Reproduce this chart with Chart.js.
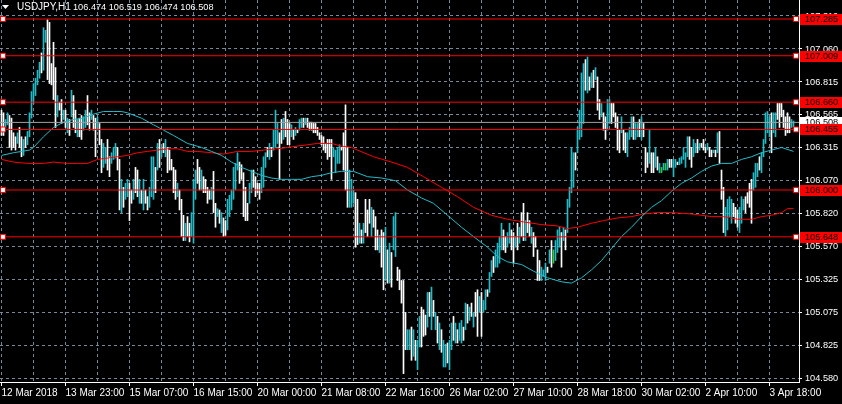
<!DOCTYPE html>
<html>
<head>
<meta charset="utf-8">
<script src="https://cdn.jsdelivr.net/npm/chart.js@4.4.1/dist/chart.umd.min.js"></script>
<style>
html, body { margin: 0; padding: 0; background: #000; overflow: hidden; }
canvas { display: block; }
</style>
</head>
<body>
<canvas id="chart" width="842" height="404"></canvas>
<script>
// USDJPY H1, one entry per hourly bar
const symbol = 'USDJPY,H1';
const lastBar = [106.474, 106.519, 106.474, 106.508]; // open high low close

const barHigh = [
  106.60,106.58,106.53,106.58,106.56,106.54,106.43,106.40,106.43,106.47,
  106.40,106.38,106.40,106.44,106.58,106.74,106.80,106.84,106.90,106.96,
  107.03,107.22,107.20,107.28,107.26,106.95,107.11,106.92,106.71,106.66,
  106.68,106.60,106.60,106.54,106.53,106.75,106.71,106.60,106.53,106.54,
  106.56,106.55,106.60,106.71,106.58,106.60,106.56,106.54,106.55,106.50,
  106.38,106.35,106.32,106.38,106.25,106.28,106.32,106.35,106.32,106.23,
  106.08,106.02,106.05,106.08,106.05,106.00,106.08,106.17,106.15,106.08,
  106.00,106.08,106.00,105.95,106.02,106.25,106.25,106.17,106.35,106.38,
  106.32,106.35,106.38,106.32,106.30,106.23,106.17,106.15,106.05,106.00,
  105.93,105.81,105.75,105.80,105.75,105.83,106.08,106.15,106.23,106.17,
  106.15,106.10,106.08,106.02,106.00,106.02,106.14,105.90,105.86,105.85,
  105.83,105.79,105.77,105.93,105.96,106.00,106.17,106.20,106.28,106.21,
  106.19,106.13,106.02,105.90,106.05,106.15,106.15,106.10,106.05,106.05,
  106.17,106.25,106.28,106.32,106.35,106.32,106.45,106.60,106.50,106.43,
  106.53,106.54,106.59,106.53,106.50,106.49,106.45,106.47,106.45,106.53,
  106.54,106.54,106.54,106.54,106.51,106.51,106.50,106.50,106.47,106.43,
  106.41,106.40,106.35,106.38,106.38,106.38,106.32,106.30,106.32,106.34,
  106.32,106.43,106.64,106.32,106.15,106.08,106.00,105.98,105.93,105.75,
  105.70,105.75,105.93,105.85,105.93,105.87,105.85,105.80,105.70,105.66,
  105.70,105.68,105.72,105.55,105.60,105.53,105.80,105.83,105.42,105.40,
  105.32,105.32,105.08,104.95,104.95,104.97,104.95,104.87,104.87,105.05,
  105.12,105.10,105.06,105.23,105.23,105.27,105.17,105.08,105.05,105.00,
  104.95,104.87,104.84,104.85,104.87,105.00,105.05,105.00,104.95,105.00,
  105.02,104.97,105.15,105.14,105.12,105.15,105.08,105.23,105.25,105.20,
  105.23,105.17,105.25,105.25,105.38,105.47,105.50,105.55,105.60,105.65,
  105.75,105.70,105.65,105.68,105.75,105.70,105.68,105.65,105.75,105.72,
  105.83,105.90,105.77,105.83,105.77,105.72,105.68,105.65,105.55,105.47,
  105.42,105.40,105.45,105.42,105.55,105.62,105.55,105.62,105.70,105.72,
  105.68,105.72,105.70,105.93,106.02,106.32,106.28,106.28,106.47,106.60,
  106.88,106.95,106.98,107.00,106.85,106.88,106.90,106.92,106.85,106.68,
  106.65,106.58,106.55,106.68,106.68,106.65,106.65,106.58,106.55,106.45,
  106.55,106.45,106.43,106.43,106.47,106.55,106.55,106.50,106.50,106.53,
  106.55,106.50,106.32,106.28,106.45,106.28,106.28,106.32,106.25,106.20,
  106.17,106.20,106.20,106.23,106.23,106.23,106.23,106.23,106.21,106.24,
  106.25,106.32,106.28,106.40,106.40,106.32,106.38,106.35,106.38,106.35,
  106.35,106.38,106.32,106.35,106.32,106.30,106.30,106.30,106.43,106.44,
  106.15,106.02,105.87,105.93,105.95,105.93,105.90,105.87,105.85,105.87,
  105.95,105.93,105.95,105.98,106.05,106.08,106.13,106.20,106.20,106.25,
  106.28,106.38,106.58,106.59,106.55,106.58,106.58,106.58,106.65,106.65,
  106.65,106.60,106.55,106.58,106.55,106.53,106.519
];

const barLow = [
  106.41,106.41,106.47,106.49,106.32,106.30,106.32,106.30,106.35,106.32,
  106.25,106.26,106.32,106.34,106.40,106.54,106.65,106.71,106.79,106.84,
  106.88,106.90,107.11,106.83,106.80,106.79,106.68,106.47,106.55,106.60,
  106.50,106.53,106.47,106.43,106.41,106.55,106.47,106.43,106.40,106.40,
  106.38,106.45,106.47,106.49,106.45,106.53,106.45,106.25,106.45,106.34,
  106.13,106.17,106.20,106.15,106.10,106.20,106.23,106.24,106.15,105.85,
  105.83,105.87,105.93,105.95,105.77,105.90,105.93,105.98,105.95,105.90,
  105.90,105.85,105.90,105.85,105.87,105.95,105.93,105.98,106.15,106.17,
  106.25,106.28,106.25,106.13,106.15,106.15,105.98,105.93,105.95,105.85,
  105.65,105.62,105.62,105.65,105.61,105.65,105.60,105.93,106.05,106.00,
  106.00,105.98,105.98,105.90,105.93,105.93,105.83,105.72,105.80,105.75,
  105.68,105.65,105.66,105.70,105.80,105.85,105.93,106.00,106.15,106.05,
  106.08,105.80,105.77,105.77,105.90,105.98,106.02,105.95,105.98,105.93,
  105.98,106.02,106.17,106.25,106.23,106.25,106.30,106.32,106.35,106.08,
  106.35,106.38,106.40,106.34,106.34,106.40,106.38,106.41,106.43,106.45,
  106.47,106.47,106.49,106.47,106.45,106.45,106.43,106.43,106.41,106.38,
  106.34,106.30,106.28,106.23,106.25,106.08,106.25,106.13,106.20,106.20,
  106.30,106.15,106.00,105.87,105.87,105.87,105.90,105.57,105.59,105.60,
  105.60,105.60,105.68,105.65,105.75,105.65,105.72,105.55,105.55,105.53,
  105.42,105.25,105.32,105.30,105.30,105.27,105.55,105.50,105.32,105.25,
  105.15,104.62,104.80,104.80,104.80,104.72,104.75,104.72,104.65,104.82,
  104.82,104.90,104.91,104.97,105.05,104.95,105.05,104.95,104.85,104.80,
  104.78,104.67,104.67,104.70,104.65,104.80,104.87,104.85,104.85,104.87,
  104.85,104.87,104.95,105.00,105.02,105.05,104.97,105.05,104.90,105.08,
  104.90,105.08,105.10,105.20,105.23,105.35,105.38,105.42,105.42,105.45,
  105.55,105.55,105.53,105.57,105.60,105.55,105.45,105.57,105.55,105.60,
  105.65,105.62,105.62,105.68,105.65,105.60,105.50,105.57,105.32,105.32,
  105.32,105.35,105.32,105.38,105.45,105.42,105.45,105.47,105.53,105.57,
  105.42,105.62,105.55,105.68,105.87,105.98,106.02,106.15,106.28,106.38,
  106.40,106.50,106.75,106.73,106.75,106.77,106.77,106.83,106.60,106.53,
  106.55,106.45,106.38,106.45,106.50,106.50,106.55,106.47,106.30,106.28,
  106.43,106.30,106.28,106.25,106.38,106.40,106.38,106.38,106.40,106.40,
  106.38,106.40,106.13,106.17,106.20,106.13,106.13,106.17,106.15,106.13,
  106.13,106.15,106.15,106.15,106.17,106.17,106.10,106.17,106.19,106.19,
  106.20,106.23,106.17,106.25,106.23,106.17,106.25,106.28,106.28,106.30,
  106.32,106.30,106.28,106.30,106.25,106.25,106.28,106.25,106.28,106.20,
  105.93,105.68,105.65,105.70,105.80,105.75,105.80,105.75,105.72,105.68,
  105.75,105.85,105.83,105.90,105.87,105.75,106.00,106.02,106.10,106.15,
  106.13,106.25,106.35,106.43,106.40,106.28,106.43,106.40,106.53,106.47,
  106.55,106.47,106.41,106.43,106.43,106.47,106.474
];

// u = closed up, d = closed down, n = unchanged
const barDir = [
  'dduuddddud','duduuuuuuu','duudddddud','dudududdud','duudduddud',
  'duudduuudd','uduudduddu','dudduuudud','ududddddud','ddudduuudd',
  'udddduddud','udduuuuuud','dddduudddd','uuududuuud','dudddududu',
  'ududdddddd','dddddduuuu','dddduuuddu','dudddudddu','ddududuudd',
  'ddduududuu','dddudududu','duuduududu','ududududdu','duuduuduuu',
  'udduuddudu','dduddudddd','uuududnuuu','duduuuuduu','uududududd',
  'udduuddddd','udduuuduud','uddduddudu','nunudduudu','uuuudduudu',
  'ddduddudud','dduuuudddu','uudddduuud','uuuuuduudd','ddddduu'
].join('');

// moving averages, sampled along the bars
const fastMaAt = [0,6,14,16,21,26,31,36,41,46,51,56,60,63,70,76,81,86,93,100,
  105,110,115,120,125,130,135,140,145,150,155,160,165,170,176,183,190,197,203,210,
  216,223,230,236,243,248,253,260,266,273,280,285,290,295,300,305,310,315,320,325,
  330,335,340,345,350,355,360,365,370,375,380,385,390,396];
const fastMa = [106.26,106.28,106.30,106.32,106.40,106.47,106.51,106.53,106.54,106.57,
  106.59,106.59,106.59,106.58,106.54,106.49,106.45,106.41,106.35,106.32,
  106.29,106.26,106.21,106.17,106.14,106.11,106.09,106.08,106.08,106.08,
  106.10,106.11,106.13,106.14,106.14,106.10,106.09,106.07,106.00,105.94,
  105.90,105.81,105.72,105.65,105.57,105.50,105.46,105.44,105.39,105.34,
  105.31,105.30,105.34,105.40,105.47,105.56,105.65,105.72,105.80,105.87,
  105.92,105.99,106.05,106.09,106.14,106.18,106.20,106.20,106.23,106.25,
  106.28,106.30,106.32,106.29];

const slowMaAt = [0,6,13,21,26,33,38,43,48,53,58,63,68,73,78,83,88,93,98,105,
  111,118,125,131,138,143,148,153,158,165,170,175,178,186,195,203,211,220,228,236,
  245,253,261,270,278,283,288,295,301,308,315,321,328,335,345,355,361,368,375,380,
  385,390,393,396];
const slowMa = [106.23,106.21,106.20,106.20,106.21,106.20,106.20,106.20,106.23,106.24,
  106.25,106.26,106.28,106.29,106.30,106.31,106.31,106.29,106.29,106.28,
  106.27,106.29,106.29,106.30,106.31,106.32,106.33,106.34,106.35,106.35,
  106.33,106.32,106.30,106.25,106.21,106.17,106.10,106.02,105.95,105.87,
  105.81,105.78,105.76,105.74,105.73,105.71,105.72,105.75,105.77,105.79,
  105.80,105.82,105.83,105.83,105.82,105.80,105.80,105.78,105.78,105.80,
  105.81,105.83,105.86,105.86];

const levels = [107.285, 107.009, 106.660, 106.455, 106.000, 105.648];

const yTickVals = [104.580,104.828,105.076,105.324,105.572,105.820,106.068,106.316,106.564,106.812,107.060,107.308];
const yTickText = ['104.580','104.825','105.075','105.325','105.570','105.820','106.070','106.315','106.565','106.815','107.060','107.310'];

const xGridAt = [0,16,32,48,64,80,96,112,128,144,160,176,192,208,224,240,256,272,288,304,320,336,352,368,384];
const dateAt = [0,32,64,96,128,160,192,224,256,288,320,352,384];
const dateText = ['12 Mar 2018','13 Mar 23:00','15 Mar 07:00','16 Mar 15:00','20 Mar 00:00','21 Mar 08:00',
  '22 Mar 16:00','26 Mar 02:00','27 Mar 10:00','28 Mar 18:00','30 Mar 02:00','2 Apr 10:00','3 Apr 18:00'];

const FONT_FAMILY = '"Liberation Sans", Arial, sans-serif';
const NUM_FONT = '9.2px ' + FONT_FAMILY;
const CYAN = '#22bcc8';
const GRID = '#778899';
const RED = '#ff0000';
const X_MIN = -0.75, X_MAX = 398.75;
const Y_MIN = 104.557, Y_MAX = 107.428;

Chart.defaults.font.family = FONT_FAMILY;
Chart.defaults.font.size = 10;
Chart.defaults.color = '#ffffff';

const barColors = [...barDir].map(d => d === 'u' ? CYAN : d === 'd' ? '#ffffff' : '#32cd32');

const datasets = [
  {
    type: 'bar',
    data: barHigh.map((h, i) => ({ x: i, y: [barLow[i], h] })),
    backgroundColor: barColors,
    borderWidth: 0,
    barThickness: 1,
    minBarLength: 1,
    grouped: false,
    order: 10
  },
  {
    type: 'line',
    data: fastMaAt.map((x, k) => ({ x, y: fastMa[k] })),
    borderColor: CYAN, borderWidth: 1, pointRadius: 0, tension: 0, order: 5
  },
  {
    type: 'line',
    data: slowMaAt.map((x, k) => ({ x, y: slowMa[k] })),
    borderColor: RED, borderWidth: 1, pointRadius: 0, tension: 0, order: 5
  },
  {
    type: 'line',
    data: [{ x: X_MIN, y: lastBar[3] }, { x: X_MAX, y: lastBar[3] }],
    borderColor: '#a0a0a0', borderWidth: 1, pointRadius: 0, order: 3
  }
];

levels.forEach(l => {
  datasets.push({
    type: 'line',
    data: [{ x: X_MIN, y: l }, { x: 0.75, y: l }, { x: 397.25, y: l }, { x: X_MAX, y: l }],
    borderColor: RED, borderWidth: 1,
    pointRadius: [0, 3.5, 3.5, 0],
    pointStyle: 'rect',
    pointBackgroundColor: '#ffffff',
    pointBorderColor: RED,
    pointBorderWidth: 1,
    order: 1
  });
});

// title, price tags on the right
const overlay = {
  id: 'overlay',
  afterDraw(chart) {
    const { ctx } = chart;
    const y = chart.scales.y;
    ctx.save();
    ctx.textBaseline = 'middle';
    ctx.textAlign = 'left';

    ctx.fillStyle = '#ffffff';
    ctx.beginPath();
    ctx.moveTo(2, 5); ctx.lineTo(9, 5); ctx.lineTo(5.5, 9); ctx.closePath();
    ctx.fill();
    ctx.font = '10px ' + FONT_FAMILY;
    ctx.fillText(symbol, 17, 7.5);
    ctx.font = NUM_FONT;
    ctx.fillText(lastBar.map(v => v.toFixed(3)).join(' '), 73, 7.5);

    const tag = (v, bg, fg) => {
      const py = Math.round(y.getPixelForValue(v));
      ctx.fillStyle = bg;
      ctx.fillRect(800, py - 5, 42, 11);
      ctx.fillStyle = fg;
      ctx.fillText(v.toFixed(3), 805, py + 0.5);
    };
    tag(lastBar[3], '#ffffff', '#000000');
    levels.forEach(l => tag(l, RED, '#000000'));
    ctx.restore();
  }
};

new Chart(document.getElementById('chart'), {
  type: 'bar',
  data: { datasets },
  options: {
    responsive: false,
    animation: false,
    devicePixelRatio: 1,
    layout: { padding: 0 },
    plugins: { legend: { display: false }, tooltip: { enabled: false }, title: { display: false } },
    scales: {
      x: {
        type: 'linear',
        min: X_MIN, max: X_MAX,
        offset: false,
        afterBuildTicks: s => { s.ticks = xGridAt.map(v => ({ value: v })); },
        afterFit: s => { s.height = 22; s.paddingLeft = 0; s.paddingRight = 0; },
        grid: {
          offset: false,
          color: GRID,
          lineWidth: 1,
          drawTicks: true,
          tickLength: 4,
          tickBorderDash: [],
          tickColor: c => (c.tick && dateAt.includes(c.tick.value)) ? '#ffffff' : 'rgba(0,0,0,0)'
        },
        border: { display: true, color: '#ffffff', width: 1, dash: [3, 3] },
        ticks: {
          autoSkip: false, maxRotation: 0, minRotation: 0,
          align: 'start', padding: 1, color: '#ffffff',
          callback: v => { const k = dateAt.indexOf(v); return k < 0 ? '' : dateText[k]; }
        }
      },
      y: {
        type: 'linear',
        position: 'right',
        min: Y_MIN, max: Y_MAX,
        afterBuildTicks: s => { s.ticks = yTickVals.map(v => ({ value: v })); },
        afterFit: s => { s.width = 43; s.paddingTop = 0; s.paddingBottom = 0; },
        grid: { color: GRID, lineWidth: 1, tickLength: 3, tickColor: '#ffffff', tickBorderDash: [] },
        border: { display: true, color: '#ffffff', width: 1, dash: [3, 3] },
        ticks: { padding: 3, color: '#ffffff', font: { size: 9.2 }, callback: (v, i) => yTickText[i] }
      }
    }
  },
  plugins: [overlay]
});
</script>
</body>
</html>
